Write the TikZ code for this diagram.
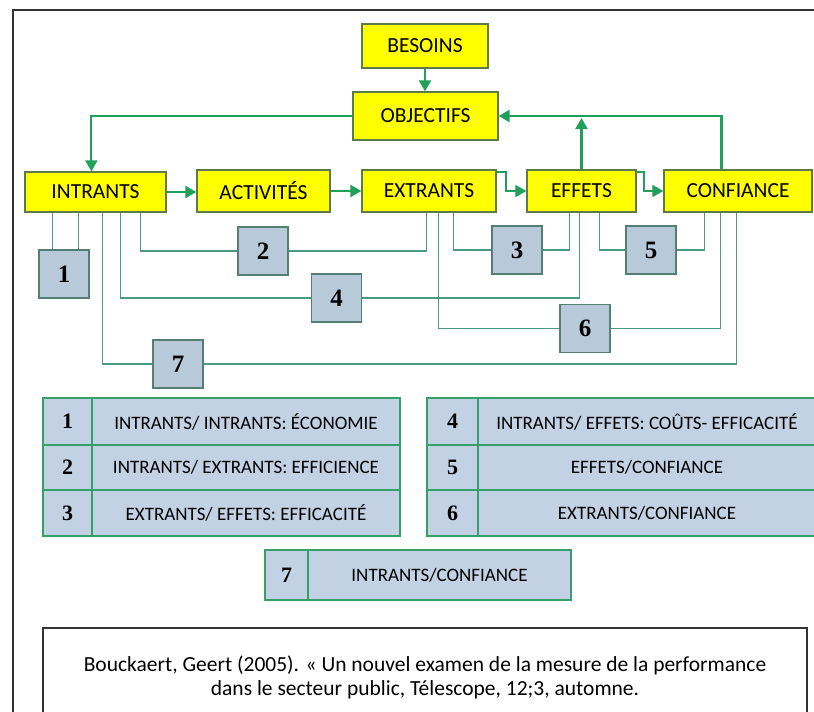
\documentclass[tikz,border=0pt]{standalone}
\usepackage{fontspec}
\setmainfont{Carlito}
\newfontfamily\numfont{Liberation Serif}
\usetikzlibrary{arrows.meta,calc}
\definecolor{ybox}{HTML}{FFFF00}
\definecolor{ybord}{HTML}{5E7A45}
\definecolor{nfill}{HTML}{B8C9D9}
\definecolor{nbord}{HTML}{557F72}
\definecolor{tfill}{HTML}{C3D1E5}
\definecolor{tbord}{HTML}{35A06A}
\definecolor{conn}{HTML}{4A9A80}
\definecolor{arr}{HTML}{21A05C}
\definecolor{frame}{HTML}{333333}
\begin{document}
\begin{tikzpicture}[x=1pt,y=-1pt,
  ybx/.style={draw=ybord,fill=ybox,line width=1.3pt,inner sep=0pt,font=\fontsize{21.5}{24}\selectfont},
  nbx/.style={draw=nbord,fill=nfill,line width=1.3pt,minimum width=50pt,minimum height=48pt,inner sep=0pt,font=\numfont\bfseries\fontsize{25}{27}\selectfont},
  tnum/.style={draw=tbord,fill=tfill,line width=1.2pt,inner sep=0pt,font=\numfont\bfseries\fontsize{22}{24}\selectfont},
  ttxt/.style={draw=tbord,fill=tfill,line width=1.2pt,inner sep=0pt,font=\fontsize{19}{21}\selectfont},
  cn/.style={draw=conn,line width=1.2pt},
  ar/.style={draw=arr,line width=2.3pt,-{Triangle[length=11pt,width=12pt]}},
  frm/.style={draw=frame,line width=1.8pt}]
\useasboundingbox (0,0) rectangle (814,712);
\clip (0,0) rectangle (814,712);
\fill[white] (0,0) rectangle (814,712);
% frame
\draw[frm] (13,720) -- (13,10) -- (830,10);
% yellow boxes
\node[ybx,minimum width=126pt,minimum height=44pt] (besoins) at (425,46) {BESOINS};
\node[ybx,minimum width=145pt,minimum height=48pt] (objectifs) at (425.5,116) {OBJECTIFS};
\node[ybx,minimum width=141pt,minimum height=40pt] (intrants) at (95.5,192) {INTRANTS};
\node[ybx,minimum width=133pt,minimum height=42pt] (activites) at (263.5,191) {ACTIVITÉS};
\node[ybx,minimum width=134pt,minimum height=42pt] (extrants) at (429,191) {EXTRANTS};
\node[ybx,minimum width=109pt,minimum height=42pt] (effets) at (581.5,191) {EFFETS};
\node[ybx,minimum width=148pt,minimum height=42pt] (confiance) at (738,191) {CONFIANCE};
% number boxes
\node[nbx] (n1) at (64,274) {1};
\node[nbx] (n2) at (263,251) {2};
\node[nbx] (n3) at (517,250) {3};
\node[nbx] (n5) at (651,250) {5};
\node[nbx] (n4) at (336.5,298) {4};
\node[nbx] (n6) at (585,328.5) {6};
\node[nbx] (n7) at (178,364) {7};
% connector end points on the box borders
\coordinate (i1) at ($(intrants.south west)+(28,0)$);
\coordinate (i2) at ($(intrants.south west)+(54,0)$);
\coordinate (i7) at ($(intrants.south west)+(78,0)$);
\coordinate (i4) at ($(intrants.south west)+(96,0)$);
\coordinate (ib) at ($(intrants.south west)+(116,0)$);
\coordinate (e2) at ($(extrants.south west)+(65,0)$);
\coordinate (e6) at ($(extrants.south west)+(77,0)$);
\coordinate (e3) at ($(extrants.south west)+(92,0)$);
\coordinate (f3) at ($(effets.south west)+(43,0)$);
\coordinate (f4) at ($(effets.south west)+(53,0)$);
\coordinate (f5) at ($(effets.south west)+(73,0)$);
\coordinate (c5) at ($(confiance.south west)+(41,0)$);
\coordinate (c6) at ($(confiance.south west)+(57,0)$);
\coordinate (c7) at ($(confiance.south west)+(73,0)$);
% connectors
\draw[cn] (i1) -- (i1 |- n1.north);
\draw[cn] (i2) -- (i2 |- n1.north);
\draw[cn] (ib) |- (n2.west);
\draw[cn] (n2.east) -| (e2);
\draw[cn] (e3) |- (n3.west);
\draw[cn] (n3.east) -| (f3);
\draw[cn] (f5) |- (n5.west);
\draw[cn] (n5.east) -| (c5);
\draw[cn] (i4) |- (n4.west);
\draw[cn] (n4.east) -| (f4);
\draw[cn] (e6) |- (n6.west);
\draw[cn] (n6.east) -| (c6);
\draw[cn] (i7) |- (n7.west);
\draw[cn] (n7.east) -| (c7);
% arrows
\coordinate (oi) at ($(intrants.north west)+(67,0)$);
\coordinate (cup) at ($(confiance.north west)+(58,0)$);
\coordinate (xe) at ($(extrants.north east)+(0,3)$);
\coordinate (xe2) at ($(effets.west)+(-20,0)$);
\coordinate (fe) at ($(effets.north east)+(0,3)$);
\coordinate (fe2) at ($(confiance.west)+(-19,0)$);
\draw[ar] (besoins.south) -- (besoins.south |- objectifs.north);
\draw[ar,line width=2pt] (objectifs.west) -| (oi);
\draw[ar,line width=2.6pt] (cup) |- (objectifs.east);
\draw[ar,shorten >=2pt] (effets.north) -- (effets.north |- objectifs.east);
\draw[ar] (intrants.east) -- (intrants.east -| activites.west);
\draw[ar] (activites.east) -- (activites.east -| extrants.west);
\draw[ar,line width=1.8pt] (xe) -| (xe2) -- (effets.west);
\draw[ar,line width=1.8pt] (fe) -| (fe2) -- (confiance.west);
% left table
\node[tnum,minimum width=49pt,minimum height=47pt] (t1n) at (67.5,421.5) {1};
\node[ttxt,minimum width=308pt,minimum height=47pt] (t1t) at (246,421.5) {INTRANTS/ INTRANTS: ÉCONOMIE};
\node[tnum,minimum width=49pt,minimum height=45pt] (t2n) at (67.5,467.5) {2};
\node[ttxt,minimum width=308pt,minimum height=45pt] (t2t) at (246,467.5) {INTRANTS/ EXTRANTS: EFFICIENCE};
\node[tnum,minimum width=49pt,minimum height=46pt] (t3n) at (67.5,513) {3};
\node[ttxt,minimum width=308pt,minimum height=46pt] (t3t) at (246,513) {EXTRANTS/ EFFETS: EFFICACITÉ};
% right table
\node[tnum,minimum width=51pt,minimum height=47pt] (t4n) at (452.5,421.5) {4};
\node[ttxt,minimum width=338pt,minimum height=47pt] (t4t) at (647,421.5) {INTRANTS/ EFFETS: COÛTS- EFFICACITÉ};
\node[tnum,minimum width=51pt,minimum height=45pt] (t5n) at (452.5,467.5) {5};
\node[ttxt,minimum width=338pt,minimum height=45pt] (t5t) at (647,467.5) {EFFETS/CONFIANCE};
\node[tnum,minimum width=51pt,minimum height=46pt] (t6n) at (452.5,513) {6};
\node[ttxt,minimum width=338pt,minimum height=46pt] (t6t) at (647,513) {EXTRANTS/CONFIANCE};
% table 7
\node[tnum,minimum width=43pt,minimum height=50pt] (t7n) at (286.5,575) {7};
\node[ttxt,minimum width=263pt,minimum height=50pt] (t7t) at (439.5,575) {INTRANTS/CONFIANCE};
% citation
\node[draw=frame,line width=1.5pt,fill=white,minimum width=764pt,minimum height=92pt,inner sep=0pt] (cite) at (425,674) {};
\node[align=center,font=\fontsize{21.5}{24}\selectfont,inner sep=0pt] (citetext) at (425,677) {Bouckaert, Geert (2005). « Un nouvel examen de la mesure de la performance\\dans le secteur public, Télescope, 12;3, automne.};
\end{tikzpicture}
\end{document}
